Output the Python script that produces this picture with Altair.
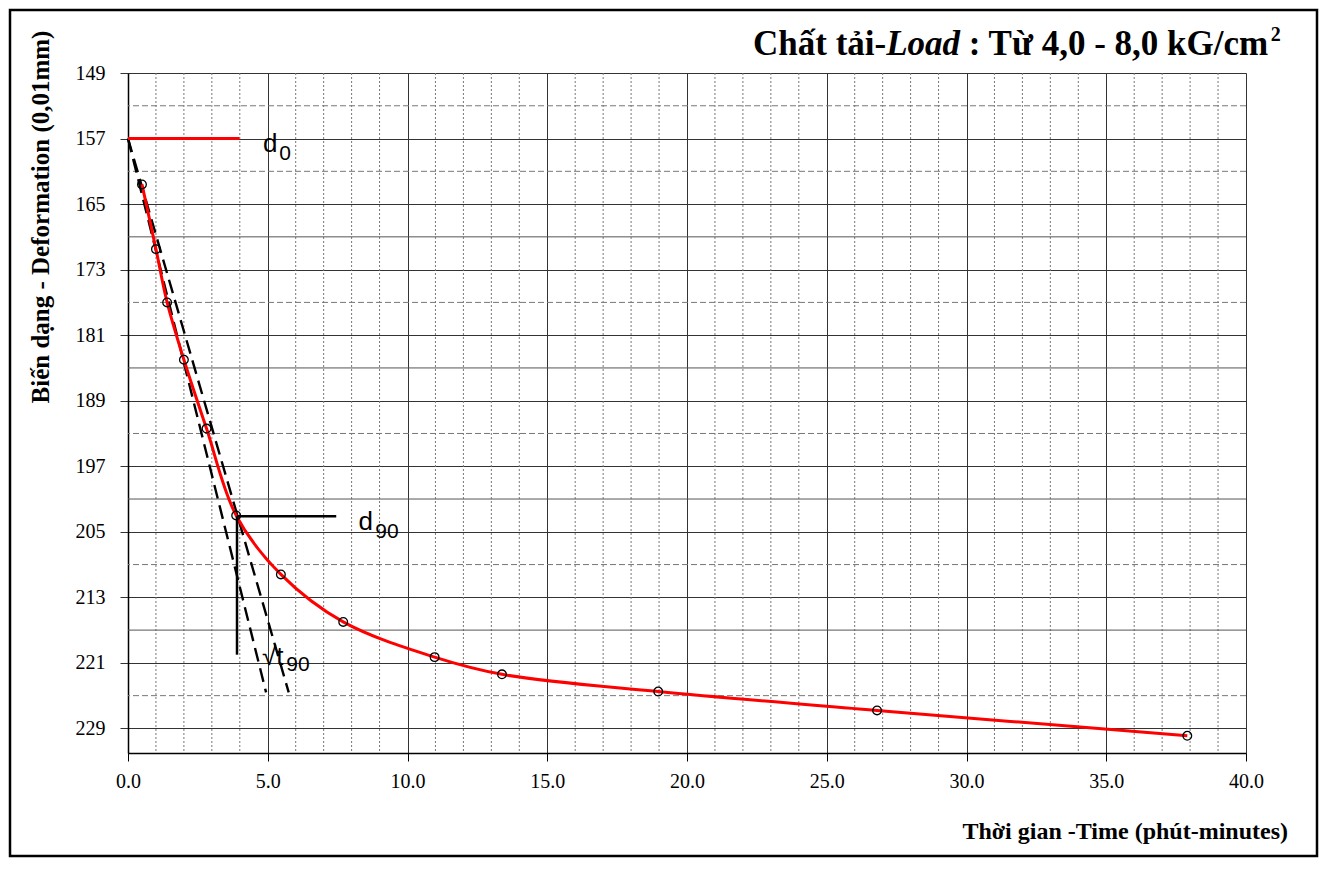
import altair as alt
import pandas as pd

# ---- data ----
time_x = [0.50, 1.00, 1.40, 2.00, 2.81, 3.87, 5.47, 7.70, 10.97, 13.38, 18.97, 26.80, 37.90]
deform = [162.6, 170.5, 177.0, 184.0, 192.4, 203.0, 210.2, 216.0, 220.3, 222.4, 224.5, 226.8, 229.9]

x_ticks = [0, 5, 10, 15, 20, 25, 30, 35, 40]
y_ticks = [149, 157, 165, 173, 181, 189, 197, 205, 213, 221, 229]
minor_x = [v for v in range(1, 40) if v % 5]
minor_y_dashed = [153, 161, 177, 193, 209, 225]
minor_y_solid = [169, 185, 201, 217]

# Taylor construction
d0_value = 157.0
d0_x_end = 3.99
tangent_x_end = [4.94, 5.75]
tangent_y_end = 224.6
d90_value = 203.1
t90_x = 3.90
d90_x_end = 7.45
t90_y_end = 220.0

# annotation labels (main text, subscript)
lab_main = ["d", "d", "\u221at"]
lab_main_x = [4.83, 8.25, 4.79]
lab_main_y = [158.6, 204.8, 221.3]
lab_sub = ["0", "90", "90"]
lab_sub_x = [5.41, 8.85, 5.66]
lab_sub_y = [159.6, 205.7, 222.0]

W, H = 1118, 680
PAD = {"left": 120, "top": 65, "right": 73, "bottom": 105}

xs = alt.Scale(domain=[0, 40], nice=False, zero=False)
ys = alt.Scale(domain=[149, 232], reverse=True, nice=False, zero=False)
SERIF = "Liberation Serif"
SANS = "Liberation Sans"

X_AX = alt.Axis(
    values=x_ticks, format=".1f", title=None, grid=True, gridColor="#333333",
    gridWidth=1, tickSize=8, tickColor="black", domainColor="black", domainWidth=1.5,
    labelFont=SERIF, labelFontSize=20, labelColor="black", labelPadding=10,
    labelFlush=False, labelOverlap=False)
Y_AX = alt.Axis(
    values=y_ticks, title=None, grid=True, gridColor="#333333", gridWidth=1,
    tickSize=8, tickColor="#333333", domainColor="black", domainWidth=1.5,
    labelFont=SERIF, labelFontSize=20, labelColor="black", labelPadding=15,
    labelFlush=False, labelOverlap=False)


def X(f):
    return alt.X(f, scale=xs, axis=X_AX)


def Y(f):
    return alt.Y(f, scale=ys, axis=Y_AX)


# ---- grid ----
vminor = alt.Chart(pd.DataFrame({"x": minor_x})).mark_rule(
    color="#777777", strokeWidth=1, strokeDash=[2, 2]
).encode(x=X("x:Q"))

hminor_d = alt.Chart(pd.DataFrame({"y": minor_y_dashed})).mark_rule(
    color="#777777", strokeWidth=1, strokeDash=[6, 3]
).encode(y=Y("y:Q"))

hminor_s = alt.Chart(pd.DataFrame({"y": minor_y_solid})).mark_rule(
    color="#555555", strokeWidth=1
).encode(y=Y("y:Q"))

# ---- construction lines ----
tan_df = pd.DataFrame({
    "x": [0, tangent_x_end[0], 0, tangent_x_end[1]],
    "y": [d0_value, tangent_y_end, d0_value, tangent_y_end],
    "k": ["a", "a", "b", "b"],
})
tangents = alt.Chart(tan_df).mark_line(
    color="black", strokeWidth=2.4, strokeDash=[14, 7]
).encode(x=X("x:Q"), y=Y("y:Q"), detail="k:N")

# ---- main curve ----
df = pd.DataFrame({"t": time_x, "d": deform})
curve = alt.Chart(df).mark_line(
    color="#FF0000", strokeWidth=3, interpolate="catmull-rom"
).encode(x=X("t:Q"), y=Y("d:Q"))

points = alt.Chart(df).mark_point(
    shape="circle", filled=False, color="black", size=75, strokeWidth=1.3, opacity=1
).encode(x=X("t:Q"), y=Y("d:Q"))

d0_line = alt.Chart(pd.DataFrame({"x": [0], "x2": [d0_x_end], "y": [d0_value]})).mark_rule(
    color="#FF0000", strokeWidth=3
).encode(x=X("x:Q"), x2="x2:Q", y=Y("y:Q"))

d90_line = alt.Chart(pd.DataFrame({"x": [t90_x], "x2": [d90_x_end], "y": [d90_value]})).mark_rule(
    color="black", strokeWidth=2.5
).encode(x=X("x:Q"), x2="x2:Q", y=Y("y:Q"))

t90_line = alt.Chart(pd.DataFrame({"x": [t90_x], "y": [d90_value], "y2": [t90_y_end]})).mark_rule(
    color="black", strokeWidth=2.5
).encode(x=X("x:Q"), y=Y("y:Q"), y2="y2:Q")

# ---- annotation labels ----
main_lab = alt.Chart(pd.DataFrame({"s": lab_main, "x": lab_main_x, "y": lab_main_y})).mark_text(
    font=SANS, fontSize=26, align="left", baseline="alphabetic", color="black"
).encode(x=X("x:Q"), y=Y("y:Q"), text="s:N")

sub_lab = alt.Chart(pd.DataFrame({"s": lab_sub, "x": lab_sub_x, "y": lab_sub_y})).mark_text(
    font=SANS, fontSize=21, align="left", baseline="alphabetic", color="black"
).encode(x=X("x:Q"), y=Y("y:Q"), text="s:N")

# ---- titles ----
one = pd.DataFrame({"a": [0]})


def txt(s, x, y, size=24, style="normal", weight="bold", angle=0, align="left", baseline="alphabetic", font=SERIF):
    return alt.Chart(one).mark_text(
        text=s, font=font, fontSize=size, fontStyle=style, fontWeight=weight,
        angle=angle, align=align, baseline=baseline, color="black"
    ).encode(x=alt.value(x), y=alt.value(y))


TF = 35
tx0, ty = 625, -18
p2x = tx0 + 3.805 * TF
p3x = p2x + 2.111 * TF + 0.25 * TF
p4x = p3x + 302
title_parts = [
    txt("Chất tải-", tx0, ty, size=TF),
    txt("Load", p2x, ty, size=TF, style="italic"),
    txt(": Từ 4,0 - 8,0 kG/cm", p3x, ty, size=TF),
    txt("2", p4x, ty - 14, size=20),
]

xtitle = txt("Thời gian -Time (phút-minutes)", 1160, 766, align="right")
ytitle = txt("Biến dạng - Deformation (0,01mm)", -87, 144, size=25, angle=270, align="center", baseline="middle")

border = alt.Chart(one).mark_rect(fill=None, stroke="black", strokeWidth=2.5).encode(
    x=alt.value(-PAD["left"] + 2), x2=alt.value(W + PAD["right"] - 2),
    y=alt.value(-PAD["top"] + 2), y2=alt.value(H + PAD["bottom"] - 2),
)

chart = alt.layer(
    vminor, hminor_d, hminor_s, tangents, curve, d0_line, d90_line, t90_line, points,
    main_lab, sub_lab, *title_parts, xtitle, ytitle, border
).properties(
    width=W, height=H, padding=PAD, autosize=alt.AutoSizeParams(type="none")
).configure_view(stroke="black", strokeWidth=1.5).configure(background="white")

chart.save("out.html", embed_options={"renderer": "svg", "actions": False})
